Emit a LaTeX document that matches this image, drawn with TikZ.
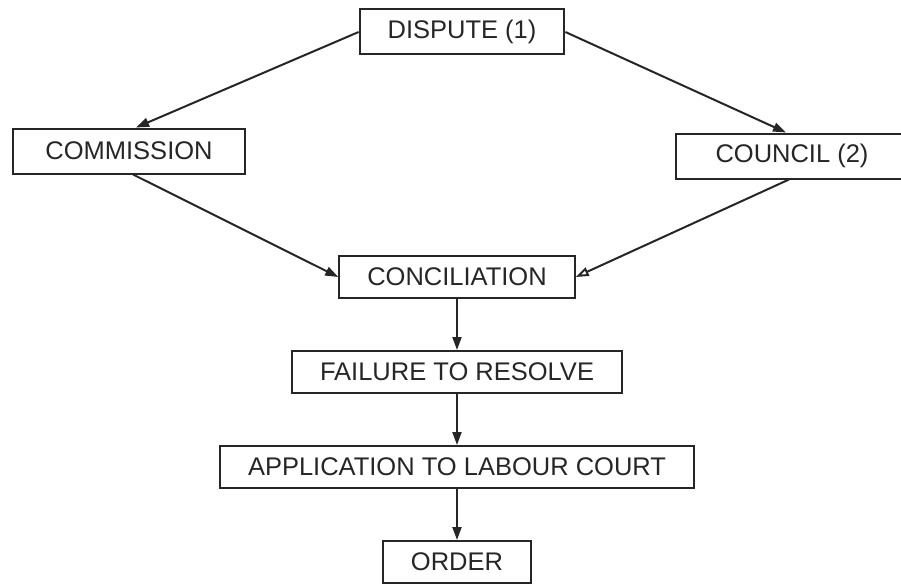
\documentclass[tikz,border=0pt]{standalone}
\usepackage{fontspec}
\setmainfont{Liberation Sans}
\usepackage{tikz}
\usetikzlibrary{chains,positioning,arrows.meta}

\begin{document}
\begin{tikzpicture}[x=1pt,y=-1pt,color=black!85]
 \tikzstyle{every path}=[line width=2pt]

\edef\sizebox{42pt}
\tikzstyle{flowbox}=[draw,rectangle,minimum height=\sizebox,inner xsep=28pt,
font=\fontsize{25.5pt}{30pt}\selectfont]
\tikzstyle{topbox}=[flowbox,minimum height=45pt]
\tikzstyle{sidebox}=[topbox,minimum width=232pt]
\tikzstyle{flowarrow}=[-{Triangle[length=13pt,width=9pt]}]
\tikzstyle{openarrow}=[-{Triangle[open,length=13pt,width=9pt]}]

\useasboundingbox (0,0) rectangle (901,586);

%% Top of the diagram
\node [topbox] (dispute) at (462,32) {DISPUTE (1)};
\node [sidebox] (commission) at (129,151) {COMMISSION};
\node [sidebox] (council) at (792,156) {COUNCIL (2)};

%% Vertical sequence
\begin{scope}[start chain=1 going below, node distance=51pt]
    \node [on chain=1,flowbox] (conciliation) at (457,277) {CONCILIATION};
    \node [on chain=1,flowbox] (failure) {FAILURE TO RESOLVE};
    \node [on chain=1,flowbox] (application) {APPLICATION TO LABOUR COURT};
    \node [on chain=1,flowbox] (order) {ORDER};
\end{scope}

\draw [flowarrow] (dispute.west) -- ([xshift=7pt]commission.north);
\draw [flowarrow] (dispute.east) -- ([xshift=-6pt]council.north);
\draw [flowarrow] ([xshift=4pt]commission.south) -- (conciliation.west);
\draw [openarrow] ([xshift=-3pt]council.south) -- (conciliation.east);

\draw [flowarrow] (conciliation.south) -- (failure.north);
\draw [flowarrow] (failure.south) -- (application.north);
\draw [flowarrow] (application.south) -- (order.north);

\end{tikzpicture}
\end{document}
